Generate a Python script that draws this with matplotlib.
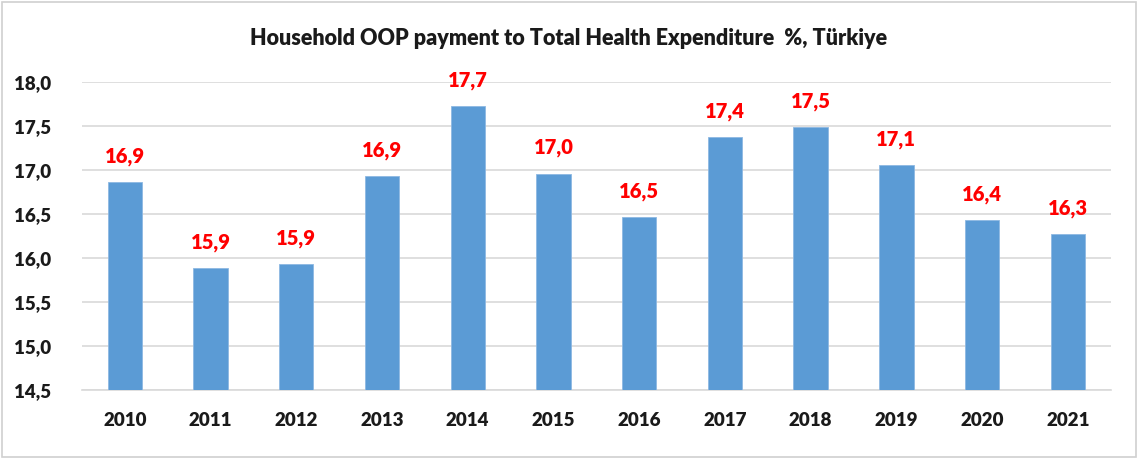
import matplotlib
matplotlib.use("Agg")
import matplotlib.pyplot as plt
from matplotlib.patches import Rectangle

years = ["2010", "2011", "2012", "2013", "2014", "2015",
         "2016", "2017", "2018", "2019", "2020", "2021"]
oop_share = [16.86, 15.89, 15.93, 16.93, 17.73, 16.96,
             16.47, 17.38, 17.49, 17.06, 16.43, 16.27]
y_ticks = [14.5, 15.0, 15.5, 16.0, 16.5, 17.0, 17.5, 18.0]
title = "Household OOP payment to Total Health Expenditure  %, Türkiye"

plt.rcParams["font.family"] = ["Lato", "DejaVu Sans"]
WEIGHT = "heavy"

fig = plt.figure(figsize=(11.38, 4.59), dpi=100)
fig.patches.append(Rectangle((0.002, 0.004), 0.996, 0.992, transform=fig.transFigure,
                             fill=False, edgecolor="#D0D0D0", linewidth=1.2))

ax = fig.add_axes([0.072, 0.150, 0.904, 0.671])
x = list(range(len(years)))
ax.bar(x, oop_share, width=0.4, color="#5B9BD5", edgecolor="#8DB8E2",
       linewidth=0.6, zorder=3)

ax.set_xlim(-0.5, len(years) - 0.5)
ax.set_ylim(14.5, 18.0)
ax.set_yticks(y_ticks)
ax.set_yticklabels([f"{v:.1f}".replace(".", ",") for v in y_ticks],
                   fontsize=13.5, fontweight=WEIGHT, color="#1a1a1a")
ax.set_xticks(x)
ax.set_xticklabels(years, fontsize=13.5, fontweight=WEIGHT, color="#1a1a1a")
ax.tick_params(axis="both", length=0)
ax.tick_params(axis="x", pad=16)
ax.tick_params(axis="y", pad=22)

ax.grid(axis="y", color="#D9D9D9", linewidth=1.2, zorder=0)
for side in ["top", "right", "left"]:
    ax.spines[side].set_visible(False)
ax.spines["bottom"].set_color("#D9D9D9")
ax.spines["bottom"].set_linewidth(1.2)

for xi, v in zip(x, oop_share):
    ax.annotate(f"{v:.1f}".replace(".", ","), (xi, v), xytext=(0, 18.5),
                textcoords="offset points", ha="center", va="center",
                fontsize=14.5, fontweight=WEIGHT, color="#FF0000",
                annotation_clip=False, zorder=4)

fig.text(0.5, 0.917, title, ha="center", va="center", fontsize=15.5,
         fontweight=WEIGHT, color="#1a1a1a")

fig.savefig("out.png", dpi=100)
